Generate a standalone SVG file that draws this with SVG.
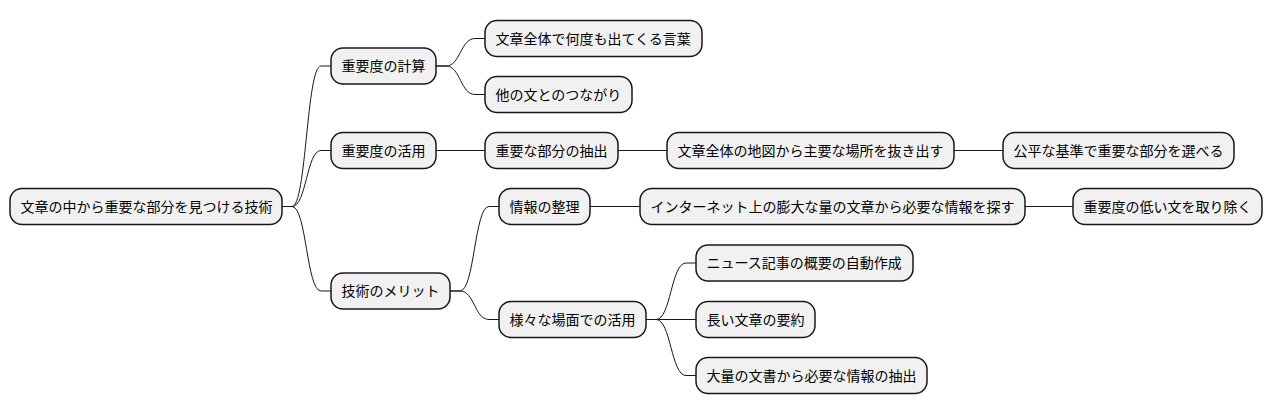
<svg xmlns="http://www.w3.org/2000/svg" width="1272" height="415" viewBox="0 0 1272 415">
<style>
.n rect{fill:#F1F1F1;stroke:#181818;stroke-width:1.5}
.n text{font-family:"Noto Sans CJK JP","Noto Sans",sans-serif;font-size:14px;fill:#000}
.c path{fill:none;stroke:#181818;stroke-width:1}
</style>
<rect width="1272" height="415" fill="#FFFFFF"/>
<g id="connectors" class="c">
<path d="M282,206.5 H292 C306.5,206.5 306.5,66 321,66 H331"/>
<path d="M282,206.5 H292 C306.5,206.5 306.5,150.5 321,150.5 H331"/>
<path d="M282,206.5 H292 C306.5,206.5 306.5,291 321,291 H331"/>
<path d="M436,66 H446 C460.5,66 460.5,38.5 475,38.5 H485"/>
<path d="M436,66 H446 C460.5,66 460.5,94.5 475,94.5 H485"/>
<path d="M436,150.5 H485"/>
<path d="M618,150.5 H667"/>
<path d="M954,150.5 H1003"/>
<path d="M450,291 H460 C474.5,291 474.5,206.5 489,206.5 H499"/>
<path d="M450,291 H460 C474.5,291 474.5,319.5 489,319.5 H499"/>
<path d="M590,206.5 H640"/>
<path d="M1025,206.5 H1073"/>
<path d="M646,319.5 H656 C671,319.5 671,263 686,263 H696"/>
<path d="M646,319.5 H696"/>
<path d="M646,319.5 H656 C671,319.5 671,375.5 686,375.5 H696"/>
</g>
<g id="root" class="n"><rect x="10" y="188.5" width="272" height="36" rx="12"/><text x="20.5" y="211.5">文章の中から重要な部分を見つける技術</text></g>
<g id="n1" class="n"><rect x="331" y="48" width="105" height="36" rx="12"/><text x="341.5" y="71">重要度の計算</text></g>
<g id="n2" class="n"><rect x="331" y="132.5" width="105" height="36" rx="12"/><text x="341.5" y="155.5">重要度の活用</text></g>
<g id="n3" class="n"><rect x="331" y="273" width="119" height="36" rx="12"/><text x="341.5" y="296">技術のメリット</text></g>
<g id="n11" class="n"><rect x="485" y="20.5" width="217" height="36" rx="12"/><text x="495.5" y="43.5">文章全体で何度も出てくる言葉</text></g>
<g id="n12" class="n"><rect x="485" y="76.5" width="147" height="36" rx="12"/><text x="495.5" y="99.5">他の文とのつながり</text></g>
<g id="n21" class="n"><rect x="485" y="132.5" width="133" height="36" rx="12"/><text x="495.5" y="155.5">重要な部分の抽出</text></g>
<g id="n211" class="n"><rect x="667" y="132.5" width="287" height="36" rx="12"/><text x="677.5" y="155.5">文章全体の地図から主要な場所を抜き出す</text></g>
<g id="n2111" class="n"><rect x="1003" y="132.5" width="231" height="36" rx="12"/><text x="1013.5" y="155.5">公平な基準で重要な部分を選べる</text></g>
<g id="n31" class="n"><rect x="499" y="188.5" width="91" height="36" rx="12"/><text x="509.5" y="211.5">情報の整理</text></g>
<g id="n311" class="n"><rect x="640" y="188.5" width="385" height="36" rx="12"/><text x="650.5" y="211.5">インターネット上の膨大な量の文章から必要な情報を探す</text></g>
<g id="n3111" class="n"><rect x="1073" y="188.5" width="189" height="36" rx="12"/><text x="1083.5" y="211.5">重要度の低い文を取り除く</text></g>
<g id="n32" class="n"><rect x="499" y="301.5" width="147" height="36" rx="12"/><text x="509.5" y="324.5">様々な場面での活用</text></g>
<g id="n321" class="n"><rect x="696" y="245" width="217" height="36" rx="12"/><text x="706.5" y="268">ニュース記事の概要の自動作成</text></g>
<g id="n322" class="n"><rect x="696" y="301.5" width="119" height="36" rx="12"/><text x="706.5" y="324.5">長い文章の要約</text></g>
<g id="n323" class="n"><rect x="696" y="357.5" width="231" height="36" rx="12"/><text x="706.5" y="380.5">大量の文書から必要な情報の抽出</text></g>
</svg>
